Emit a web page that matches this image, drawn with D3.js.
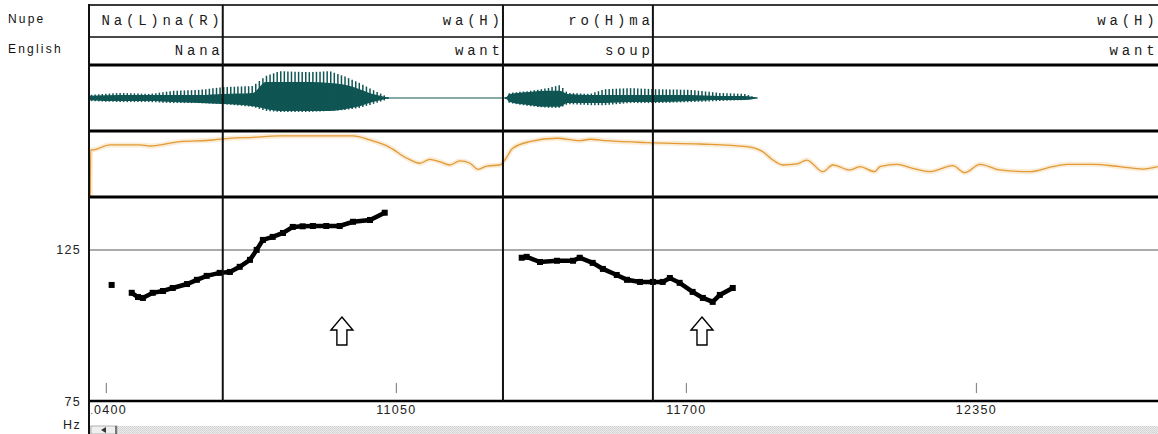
<!DOCTYPE html>
<html>
<head>
<meta charset="utf-8">
<script src="https://cdn.jsdelivr.net/npm/d3@7"></script>
<style>
  body { margin: 0; background: #fff; }
  svg { display: block; }
</style>
</head>
<body>
<div id="chart"></div>
<script>
// visible time window (ms) and the annotation tiers
const viewMs = [10360, 12758];
const timeTicks = [10400, 11050, 11700, 12350];
const boundaryMs = [10662, 11290, 11626];
const wordEndMs = [10662, 11290, 11626, 12757];
const tierNames = ["Nupe", "English"];
const nupeWords = ["Na(L)na(R)", "wa(H)", "ro(H)ma", "wa(H)"];
const englishWords = ["Nana", "want", "soup", "want"];

// f0 track (Hz)
const hzTicks = [75, 125];
const pitchMs = [10413, 10458, 10472, 10483, 10505, 10528, 10550, 10582, 10604, 10626, 10655, 10678, 10700,
  10723, 10738, 10752, 10774, 10797, 10819, 10841, 10864, 10894, 10924, 10954, 10992, 11025,
  11332, 11343, 11373, 11411, 11447, 11462, 11491, 11514, 11545, 11568, 11597, 11626, 11648, 11664,
  11686, 11715, 11738, 11760, 11776, 11805];
const pitchHz = [113.4, 110.8, 109.4, 109.1, 110.8, 111.4, 112.4, 113.7, 115.1, 116.4, 117.4, 117.7, 119.4,
  121.7, 125.0, 128.3, 129.3, 130.6, 132.6, 132.8, 132.9, 132.9, 132.9, 134.3, 134.9, 137.3,
  122.4, 122.7, 121.0, 121.4, 121.4, 122.4, 120.7, 118.7, 116.7, 115.1, 114.4, 114.4, 114.4, 115.7,
  114.1, 111.1, 109.1, 107.8, 110.1, 112.4];

// intensity (dB)
const intensityMs = [10365, 10366, 10369, 10409, 10476, 10499, 10566, 10640, 10662, 10729, 10790, 10954, 10992,
  11036, 11075, 11104, 11126, 11148, 11171, 11193, 11216, 11234, 11254, 11283, 11294, 11312, 11350, 11411,
  11462, 11485, 11523, 11612, 11731, 11837, 11872, 11895, 11917, 11949, 11971, 12007, 12029, 12067, 12090,
  12123, 12135, 12173, 12208, 12247, 12298, 12325, 12359, 12403, 12471, 12522, 12554, 12612, 12672, 12724, 12758];
const intensityDb = [30, 74.5, 74.5, 79.4, 79.4, 78.4, 82.6, 84.2, 85.2, 86.8, 88.1, 88.1, 84.2,
  77.1, 66.5, 61.7, 65.5, 63.2, 60.0, 63.9, 61.7, 55.8, 59.0, 60.0, 64.8, 76.2, 82.6, 85.9,
  83.5, 84.9, 83.5, 81.6, 80.3, 77.7, 72.9, 64.8, 60.0, 61.0, 64.8, 53.5, 60.0, 55.2, 58.4,
  53.5, 58.4, 60.7, 56.8, 53.5, 59.3, 52.6, 60.7, 55.2, 53.5, 58.4, 60.7, 60.7, 58.4, 56.1, 58.4];

// waveform envelope (% of full scale): solid core and glottal peaks
const waveMs = [10360, 10431, 10499, 10550, 10611, 10662, 10729, 10759, 10790, 10857, 10902, 10938, 10969, 10998, 11027, 11036,
  11294, 11305, 11350, 11391, 11417, 11435, 11485, 11518, 11574, 11630, 11709, 11776, 11832, 11861];
const waveCoreUp = [6, 9, 9, 9, 9, 12, 15, 47, 47, 47, 44, 38, 26, 12, 3, 0,
  0, 12, 18, 21, 21, 12, 9, 9, 9, 9, 9, 6, 6, 0];
const waveCoreDown = [6, 9, 9, 12, 15, 18, 24, 32, 38, 38, 38, 32, 24, 12, 3, 0,
  0, 12, 21, 26, 26, 15, 15, 15, 12, 12, 9, 6, 6, 0];
const wavePeakUp = [9, 15, 12, 21, 24, 32, 35, 65, 79, 76, 79, 62, 44, 24, 6, 0,
  0, 15, 21, 29, 38, 15, 12, 26, 29, 26, 24, 15, 12, 0];
const wavePeakDown = [9, 12, 12, 15, 15, 18, 26, 38, 41, 41, 38, 35, 29, 18, 6, 0,
  0, 15, 24, 29, 29, 18, 21, 21, 15, 15, 12, 9, 6, 0];

// the two hollow arrows under the contours
const arrowMs = [10929, 11736];
const arrowHz = [102.8, 102.8];

const W = 1158, H = 434;
const LEFT = 89;
const TIER = { TOP: 5, MID: 37, BOTTOM: 65 };
const WAVE = { TOP: 65, BOTTOM: 131 };
const INTEN = { TOP: 131, BOTTOM: 197 };
const PITCH = { TOP: 197, BOTTOM: 401 };
const WAVE_COLOR = "#0f5553";
const INT_COLOR = "#e29a36";
const SANS = "'Liberation Sans', Arial, sans-serif";
const MONO = "'Liberation Mono', 'Courier New', monospace";
const TIER_LS = 3.8;

const svg = d3.select("#chart").append("svg")
  .attr("width", W).attr("height", H);

svg.append("rect").attr("width", W).attr("height", H).attr("fill", "#fff");

const defs = svg.append("defs");
defs.append("clipPath").attr("id", "plot")
  .append("rect").attr("x", LEFT + 1).attr("y", 0).attr("width", W - LEFT).attr("height", H);
defs.append("clipPath").attr("id", "labels")
  .append("rect").attr("x", LEFT + 2.5).attr("y", 0).attr("width", W - LEFT).attr("height", H);

const dots = defs.append("pattern").attr("id", "dots")
  .attr("width", 2).attr("height", 2).attr("patternUnits", "userSpaceOnUse");
dots.append("rect").attr("width", 2).attr("height", 2).attr("fill", "#ececec");
dots.append("rect").attr("width", 1).attr("height", 1).attr("fill", "#cfcfcf");
dots.append("rect").attr("x", 1).attr("y", 1).attr("width", 1).attr("height", 1).attr("fill", "#d8d8d8");

//scales
const x = d3.scaleLinear().domain(viewMs).range([88, W]);
const yPitch = d3.scaleLinear().domain([75, 142.5]).range([PITCH.BOTTOM, PITCH.TOP]);
const yInt = d3.scaleLinear().domain([30, 90]).range([INTEN.BOTTOM - 1, INTEN.TOP + 3]);
const yWave = d3.scaleLinear().domain([-100, 100]).range([WAVE.BOTTOM + 1, WAVE.TOP - 1]);

const plot = svg.append("g").attr("clip-path", "url(#plot)");

// tier labels on the left
svg.selectAll(".tier-name").data(tierNames).join("text")
  .attr("class", "tier-name")
  .attr("x", 8)
  .attr("y", (d, i) => i === 0 ? 23 : 53)
  .attr("font-family", SANS).attr("font-size", 12)
  .attr("letter-spacing", 2.2)
  .attr("fill", "#111")
  .text(d => d);

// tier words, right aligned to their interval ends
const tierRows = [
  { words: nupeWords, y: 25 },
  { words: englishWords, y: 55 }
];
tierRows.forEach(row => {
  plot.append("g").selectAll("text").data(row.words).join("text")
    .attr("x", (d, i) => x(wordEndMs[i]) + TIER_LS - 3)
    .attr("y", row.y)
    .attr("text-anchor", "end")
    .attr("font-family", MONO).attr("font-size", 14)
    .attr("letter-spacing", TIER_LS)
    .attr("fill", "#1a1a1a")
    .text(d => d);
});

// waveform
const env = arr => d3.scaleLinear().domain(waveMs).range(arr).clamp(true);
const peakUp = env(wavePeakUp), peakDown = env(wavePeakDown);
const baseY = yWave(0);

plot.append("line")
  .attr("x1", x(viewMs[0])).attr("x2", x(waveMs[waveMs.length - 1]))
  .attr("y1", baseY).attr("y2", baseY)
  .attr("stroke", WAVE_COLOR).attr("stroke-width", 1);

plot.append("path")
  .datum(waveMs.map((t, i) => [t, waveCoreUp[i], waveCoreDown[i]]))
  .attr("d", d3.area()
    .x(d => x(d[0]))
    .y0(d => yWave(-d[2]))
    .y1(d => yWave(d[1]))
    .curve(d3.curveMonotoneX))
  .attr("fill", WAVE_COLOR);

const spikeMs = d3.range(waveMs[0], waveMs[waveMs.length - 1], 8).filter(t => peakUp(t) > 1);
plot.append("g").selectAll("line").data(spikeMs).join("line")
  .attr("x1", d => x(d)).attr("x2", d => x(d))
  .attr("y1", d => yWave(peakUp(d)))
  .attr("y2", d => yWave(-peakDown(d)))
  .attr("stroke", WAVE_COLOR).attr("stroke-width", 1.5);

// intensity contour
const intData = intensityMs.map((t, i) => [t, intensityDb[i]]);
const intLine = d3.line().x(d => x(d[0])).y(d => yInt(d[1])).curve(d3.curveMonotoneX);
plot.append("path").datum(intData).attr("d", intLine)
  .attr("fill", "none").attr("stroke", "#f6dcb4").attr("stroke-width", 5).attr("opacity", 0.55);
plot.append("path").datum(intData).attr("d", intLine)
  .attr("fill", "none").attr("stroke", INT_COLOR).attr("stroke-width", 1.3);

// 125 Hz reference line
plot.append("line")
  .attr("x1", LEFT).attr("x2", W)
  .attr("y1", yPitch(125)).attr("y2", yPitch(125))
  .attr("stroke", "#ababab").attr("stroke-width", 2);

// pitch contours: break where frames are missing
const pitchData = pitchMs.map((t, i) => [t, pitchHz[i]]);
const segments = [];
pitchData.forEach((d, i) => {
  if (i === 0 || d[0] - pitchData[i - 1][0] > 40) segments.push([]);
  segments[segments.length - 1].push(d);
});
const pitchLine = d3.line().x(d => x(d[0])).y(d => yPitch(d[1]));
plot.append("g").selectAll("path").data(segments).join("path")
  .attr("d", pitchLine)
  .attr("fill", "none").attr("stroke", "#000").attr("stroke-width", 4.5);
plot.append("g").selectAll("rect").data(pitchData).join("rect")
  .attr("x", d => x(d[0]) - 3).attr("y", d => yPitch(d[1]) - 3)
  .attr("width", 6).attr("height", 6).attr("fill", "#000");

// arrows
const arrowShape = "M0,0 L11,13 L5,13 L5,28 L-5,28 L-5,13 L-11,13 Z";
plot.append("g").selectAll("path").data(arrowMs).join("path")
  .attr("transform", (d, i) => `translate(${x(d)},${yPitch(arrowHz[i])})`)
  .attr("d", arrowShape)
  .attr("fill", "#fff").attr("stroke", "#000").attr("stroke-width", 1.4);

// time ticks inside the pitch panel
const tickGroup = plot.append("g").attr("transform", `translate(0, ${PITCH.BOTTOM - 8})`)
  .call(d3.axisTop(x).tickValues(timeTicks).tickSize(10).tickFormat(""));
tickGroup.select(".domain").remove();
tickGroup.selectAll(".tick line").attr("stroke", "#8a8a8a").attr("stroke-width", 1.2);

// time labels under the axis line (first one is cut by the panel edge)
const labelGroup = svg.append("g").attr("clip-path", "url(#labels)")
  .append("g").attr("transform", `translate(0, ${PITCH.BOTTOM})`)
  .call(d3.axisBottom(x).tickValues(timeTicks).tickSize(0).tickPadding(4).tickFormat(d3.format("d")));
labelGroup.select(".domain").remove();
labelGroup.selectAll(".tick text")
  .attr("font-family", SANS).attr("font-size", 12.5).attr("letter-spacing", 1.3)
  .attr("fill", "#222");

// Hz labels
const yAxis = svg.append("g").attr("transform", `translate(${LEFT - 8}, 0)`)
  .call(d3.axisLeft(yPitch).tickValues(hzTicks).tickSize(0).tickPadding(0));
yAxis.select(".domain").remove();
yAxis.selectAll(".tick text")
  .attr("font-family", SANS).attr("font-size", 12.5).attr("letter-spacing", 1.3)
  .attr("fill", "#222");
svg.append("text")
  .attr("x", LEFT - 8).attr("y", 429)
  .attr("text-anchor", "end")
  .attr("font-family", SANS).attr("font-size", 12.5).attr("letter-spacing", 1.3)
  .attr("fill", "#222")
  .text("Hz");

// frame lines
const hLines = [
  { y: TIER.TOP, w: 2, c: "#3a3a3a" },
  { y: TIER.MID, w: 2, c: "#4a4a4a" },
  { y: TIER.BOTTOM, w: 3, c: "#000" },
  { y: WAVE.BOTTOM, w: 3, c: "#000" },
  { y: INTEN.BOTTOM, w: 3, c: "#000" },
  { y: PITCH.BOTTOM, w: 2.5, c: "#000" }
];
svg.append("g").selectAll("line").data(hLines).join("line")
  .attr("x1", LEFT - 1).attr("x2", W)
  .attr("y1", d => d.y).attr("y2", d => d.y)
  .attr("stroke", d => d.c).attr("stroke-width", d => d.w);

svg.append("g").selectAll("line").data(boundaryMs).join("line")
  .attr("x1", d => x(d)).attr("x2", d => x(d))
  .attr("y1", TIER.TOP).attr("y2", PITCH.BOTTOM)
  .attr("stroke", "#111").attr("stroke-width", 2);

svg.append("line")
  .attr("x1", LEFT).attr("x2", LEFT)
  .attr("y1", TIER.TOP - 1).attr("y2", H)
  .attr("stroke", "#111").attr("stroke-width", 2);

// scroll bar at the bottom
svg.append("rect")
  .attr("x", LEFT + 1).attr("y", 426).attr("width", W - LEFT).attr("height", 8)
  .attr("fill", "url(#dots)");
svg.append("rect")
  .attr("x", LEFT + 2).attr("y", 426).attr("width", 26).attr("height", 8)
  .attr("fill", "#efefef").attr("stroke", "#b0b0b0").attr("stroke-width", 1);
svg.append("path")
  .attr("d", `M${LEFT + 12},430 L${LEFT + 17},427 L${LEFT + 17},433 Z`)
  .attr("fill", "#333");
svg.append("line")
  .attr("x1", LEFT + 27).attr("x2", LEFT + 27).attr("y1", 426).attr("y2", 434)
  .attr("stroke", "#555").attr("stroke-width", 1.5);
</script>
</body>
</html>
